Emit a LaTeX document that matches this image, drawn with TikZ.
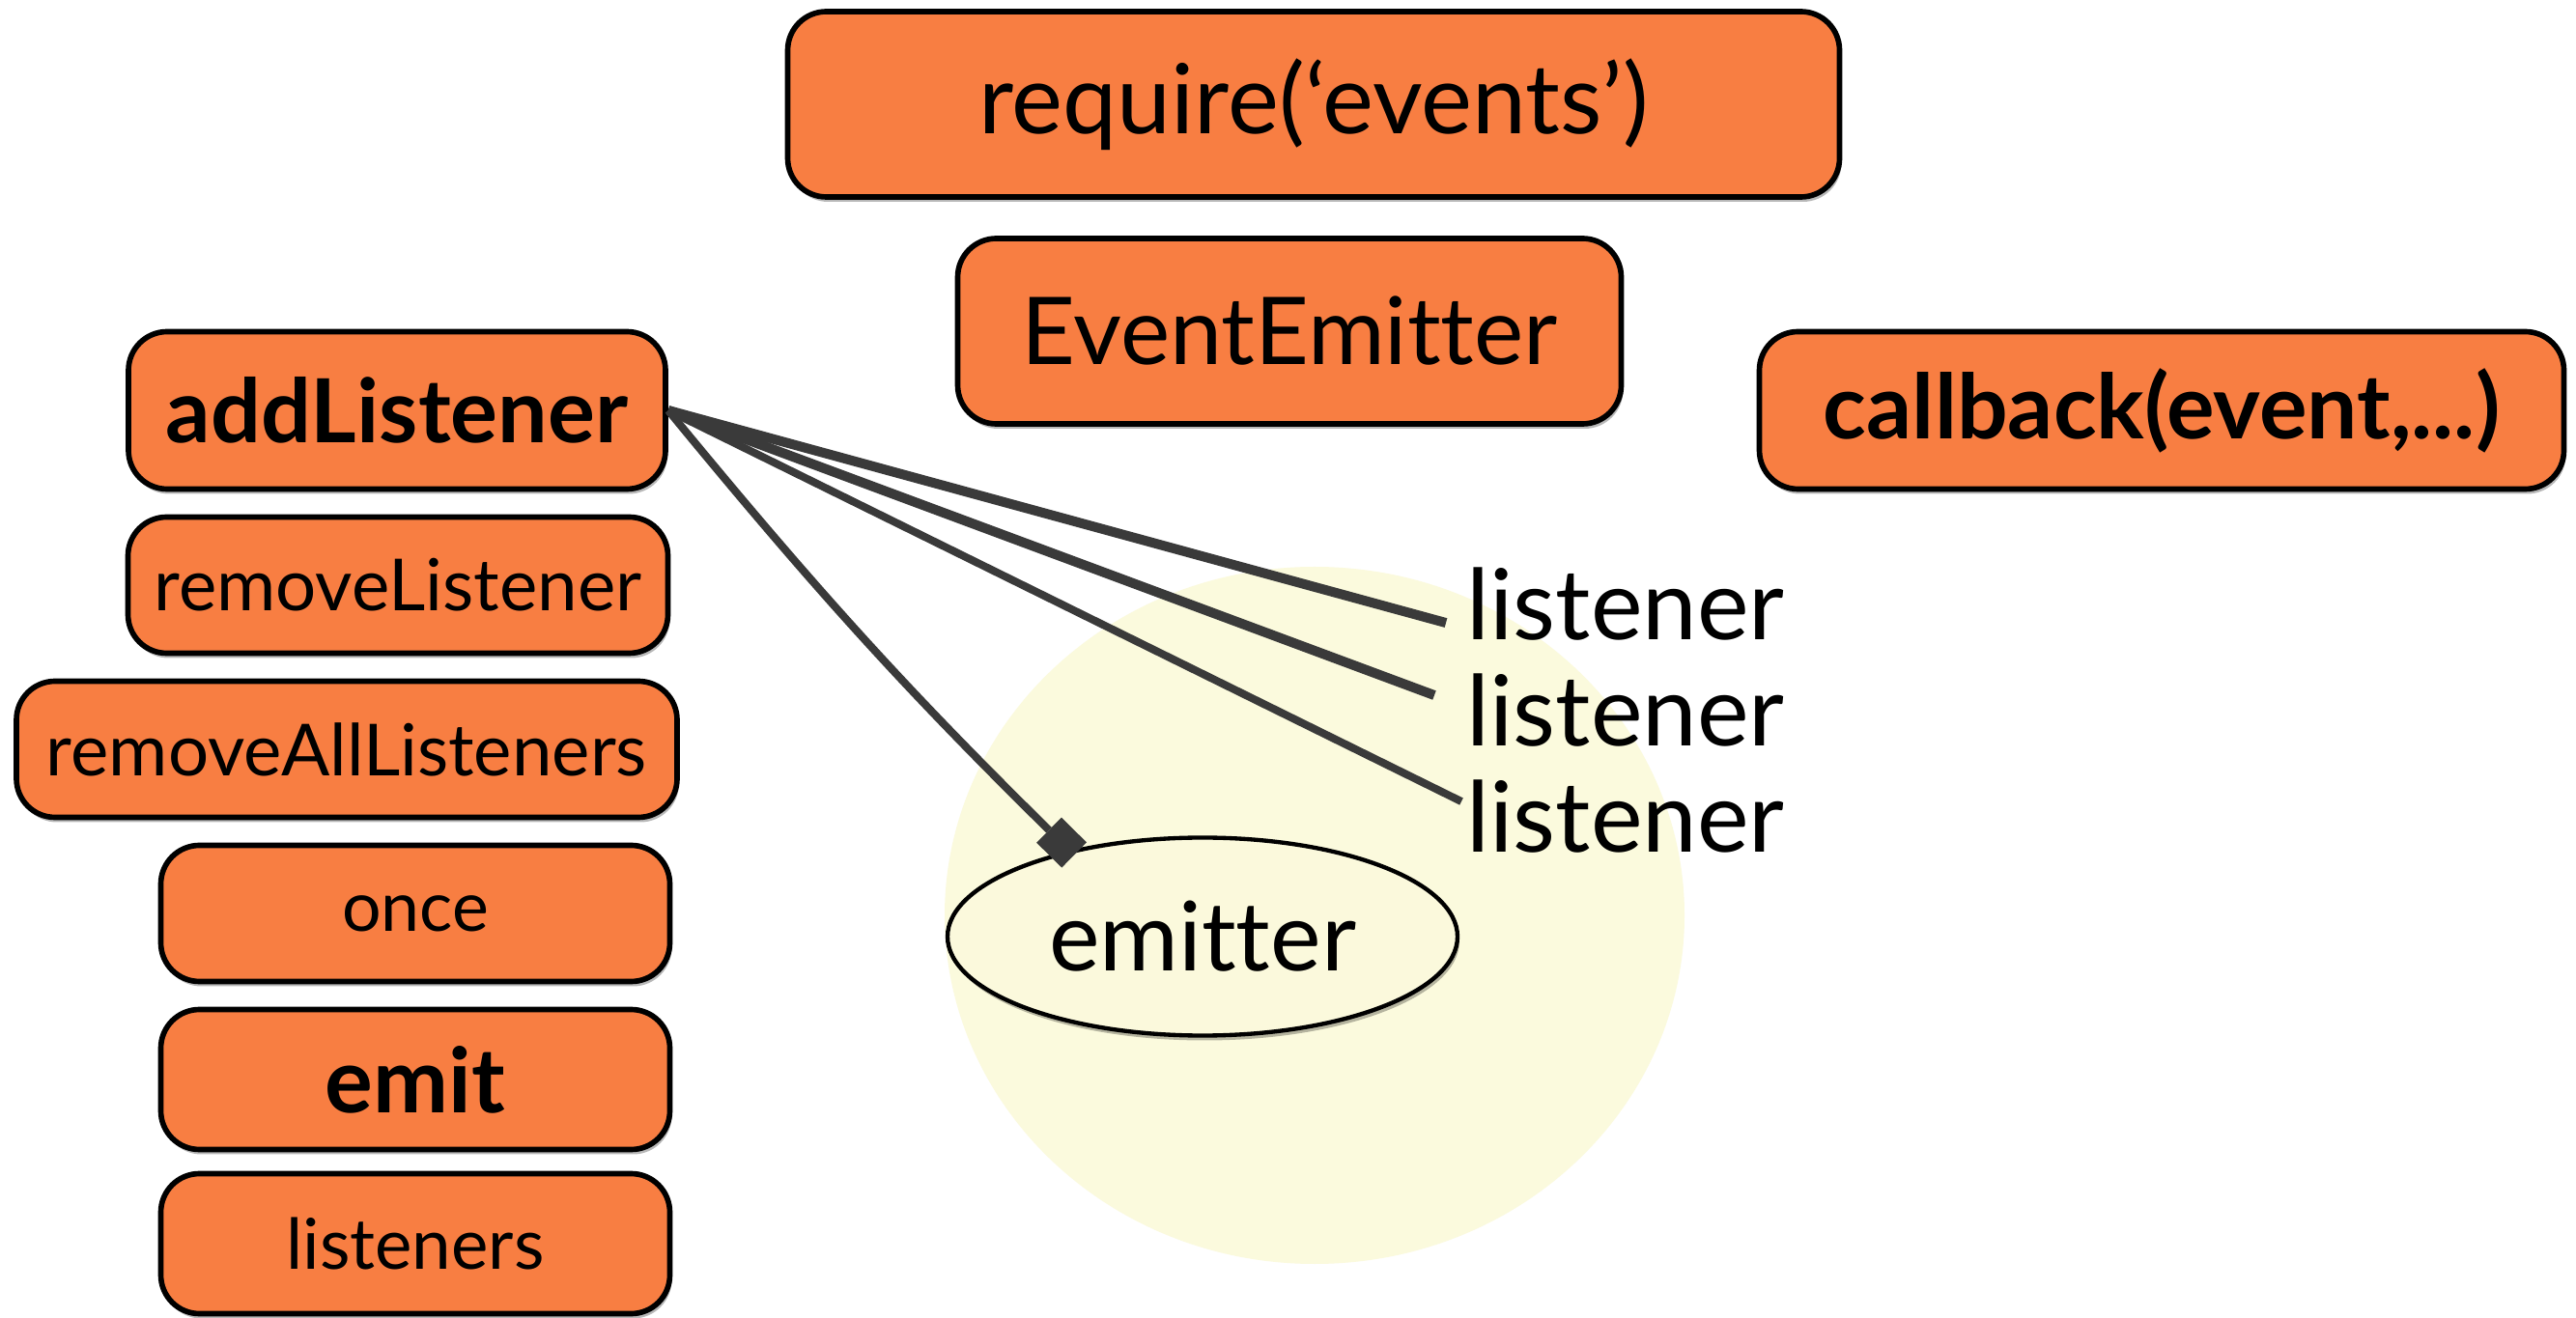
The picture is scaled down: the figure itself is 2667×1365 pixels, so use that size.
\documentclass[tikz,border=0pt]{standalone}
\usepackage{fontspec}
\setmainfont{Lato}[Ligatures=NoCommon]
\usetikzlibrary{shapes.geometric,shadows,arrows.meta}

\definecolor{boxorange}{RGB}{248,126,66}
\definecolor{halo}{RGB}{251,250,221}
\definecolor{eggshell}{RGB}{251,249,220}
\definecolor{linkgray}{RGB}{58,58,58}

% one drawing unit = one pixel of the layout grid
\newlength\pxu
\setlength\pxu{0.3pt}
% set a label at a given width (in grid units)
\newcommand\sized[2]{\resizebox{#1\pxu}{!}{#2}}

\tikzset{
  softshadow/.style={drop shadow={shadow xshift=0.6pt, shadow yshift=-1.5pt, opacity=0.28, fill=black}},
  pill/.style={draw=black, line width=1.7pt, fill=boxorange, rounded corners=12pt,
               inner sep=0pt, softshadow},
  link/.style={draw=linkgray},
  squaretip/.style={-{Square[length=11pt, width=11pt, line width=0pt, fill=linkgray]}},
}

\begin{document}
\begin{tikzpicture}[x=0.3pt, y=0.3pt]
  \fill[white] (0,0) rectangle (2667,-1365);
  \useasboundingbox (0,0) rectangle (2667,-1365);

  % pale halo behind the emitter
  \fill[halo] (1361,-948) ellipse [x radius=383, y radius=361];

  % module and class
  \node[pill, minimum width=326.7pt, minimum height=57.6pt] (req) at (1360,-108)
    {\sized{693}{require(‘events’)}};
  \node[pill, minimum width=206.1pt, minimum height=57.6pt] (ee) at (1335,-343)
    {\sized{555}{EventEmitter}};
  \node[pill, minimum width=249.9pt, minimum height=48.9pt] (cb) at (2238,-425)
    {\sized{700}{\bfseries callback(event,...)}};

  % method column
  \node[pill, minimum width=166.8pt, minimum height=48.9pt] (add) at (411,-425)
    {\sized{478}{\bfseries addListener}};
  \node[pill, minimum width=167.7pt, minimum height=42.3pt] (rem) at (412,-606)
    {\sized{505}{removeListener}};
  \node[pill, minimum width=205.2pt, minimum height=42.3pt] (remall) at (359,-776)
    {\sized{622}{removeAllListeners}};
  \node[pill, minimum width=158.1pt, minimum height=42.3pt] (once) at (430,-946)
    {\sized{152}{once}};
  \node[pill, minimum width=158.1pt, minimum height=43.5pt] (emit) at (430,-1118)
    {\sized{186}{\bfseries emit}};
  \node[pill, minimum width=158.1pt, minimum height=43.5pt] (lsn) at (430,-1288)
    {\sized{267}{listeners}};

  % emitter instance
  \node[ellipse, draw=black, line width=1.3pt, fill=eggshell, minimum width=158.4pt,
        minimum height=61.5pt, inner sep=0pt, softshadow] (em) at (1245,-970)
    {\sized{318}{emitter}};

  % registered listeners
  \node[anchor=base west, inner sep=0pt] (l1) at (1518,-663) {\sized{329}{listener}};
  \node[anchor=base west, inner sep=0pt] (l2) at (1518,-773) {\sized{329}{listener}};
  \node[anchor=base west, inner sep=0pt] (l3) at (1518,-883) {\sized{329}{listener}};

  % connectors
  \draw[link, line width=3pt] (add.east) -- ([xshift=-6.3pt, yshift=-5.7pt]l1.west);
  \draw[link, line width=3pt] (add.east) -- ([xshift=-9.9pt, yshift=4.8pt]l2.west);
  \draw[link, line width=2.4pt] (add.east) -- ([xshift=-1.5pt, yshift=4.8pt]l3.west);
  \draw[link, line width=2.4pt, squaretip]
    (add.east) to[bend right=3] ([xshift=1.5pt, yshift=-1.5pt]em.147);
\end{tikzpicture}
\end{document}
